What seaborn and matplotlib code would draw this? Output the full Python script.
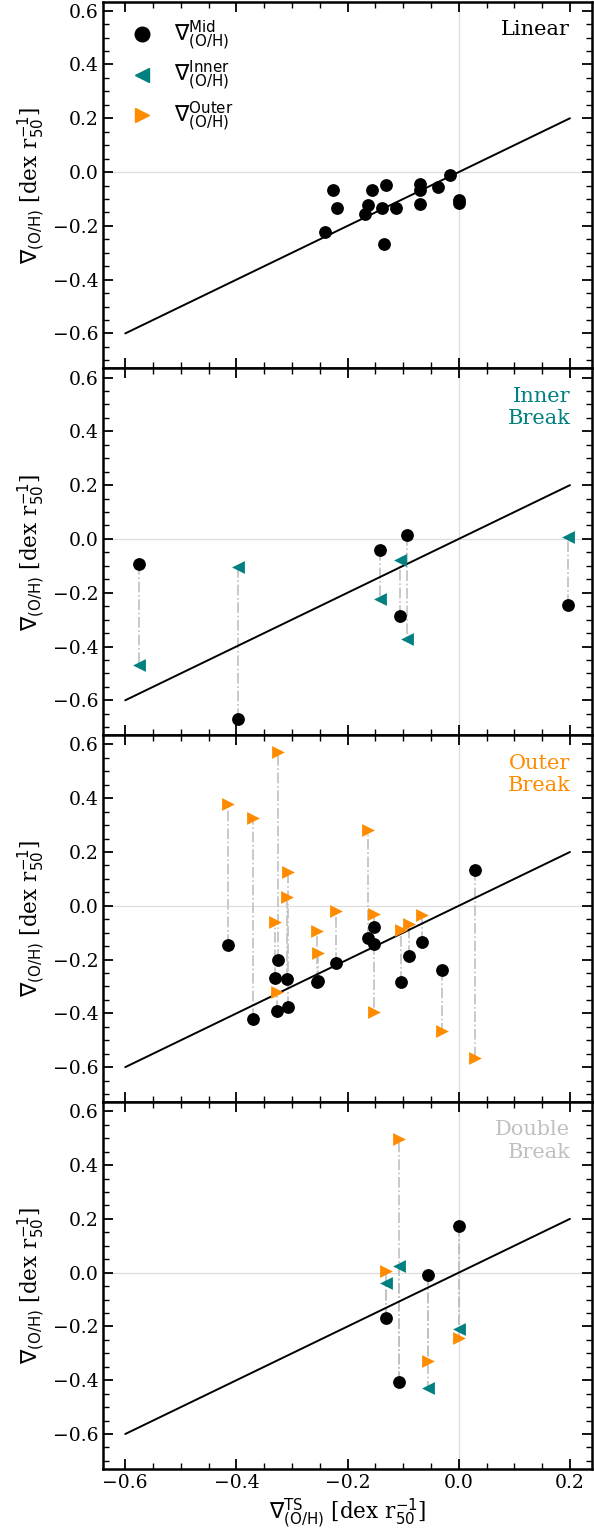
import numpy as np
import pandas as pd
import matplotlib
matplotlib.use("Agg")
import matplotlib.pyplot as plt
from matplotlib.lines import Line2D
from matplotlib.ticker import MultipleLocator
import seaborn as sns

# ---------------- data ----------------
# Panel 1: Linear
lin_x   = [-0.241, -0.226, -0.219, -0.168, -0.163, -0.156, -0.138, -0.135, -0.131,
           -0.113, -0.070, -0.069, -0.070, -0.038, -0.015, 0.000, 0.001]
lin_mid = [-0.223, -0.066, -0.135, -0.157, -0.121, -0.066, -0.134, -0.269, -0.048,
           -0.135, -0.046, -0.068, -0.118, -0.055, -0.012, -0.105, -0.114]

# Panel 2: Inner break
inn_x     = [-0.576, -0.398, -0.141, -0.105, -0.094, 0.196]
inn_mid   = [-0.092, -0.668, -0.041, -0.285, 0.015, -0.246]
inn_inner = [-0.470, -0.106, -0.222, -0.077, -0.373, 0.007]

# Panel 3: Outer break
out_x     = [-0.416, -0.370, -0.325, -0.331, -0.327, -0.308, -0.309, -0.255, -0.254,
             -0.220, -0.164, -0.153, -0.152, -0.104, -0.090, -0.066, -0.030, 0.030]
out_mid   = [-0.146, -0.420, -0.200, -0.268, -0.393, -0.378, -0.271, -0.283, -0.280,
             -0.211, -0.120, -0.078, -0.142, -0.285, -0.186, -0.133, -0.238, 0.133]
out_outer = [0.380, 0.325, 0.572, -0.062, -0.319, 0.124, 0.033, -0.093, -0.174,
             -0.020, 0.283, -0.031, -0.396, -0.089, -0.066, -0.035, -0.465, -0.565]

# Panel 4: Double break
dbl_x     = [-0.131, -0.107, -0.055, 0.001]
dbl_mid   = [-0.169, -0.405, -0.007, 0.172]
dbl_inner = [-0.040, 0.024, -0.429, -0.209]
dbl_outer = [0.006, 0.497, -0.327, -0.243]

one_to_one = [-0.6, 0.2]

panel_titles = ["Linear", "Inner\nBreak", "Outer\nBreak", "Double\nBreak"]

# ---------------- style ----------------
sns.set_style("ticks")
plt.rcParams["font.family"] = ["DejaVu Serif"]
plt.rcParams["mathtext.fontset"] = "dejavusans"
plt.rcParams["axes.edgecolor"] = "black"
plt.rcParams["xtick.color"] = "black"
plt.rcParams["ytick.color"] = "black"
plt.rcParams["text.color"] = "black"
plt.rcParams["axes.labelcolor"] = "black"

C_MID = "black"
C_IN = "#008080"
C_OUT = "#FF8C00"
C_LINK = "#C0C0C0"
title_colors = ["black", C_IN, C_OUT, "#C0C0C0"]

fig, axes = plt.subplots(4, 1, figsize=(5.94, 15.39), dpi=100, sharex=True, sharey=True)
fig.subplots_adjust(left=0.1734, right=0.997, top=0.999, bottom=0.0455, hspace=0)

panels = [
    dict(x=lin_x, mid=lin_mid, inner=None, outer=None),
    dict(x=inn_x, mid=inn_mid, inner=inn_inner, outer=None),
    dict(x=out_x, mid=out_mid, inner=None, outer=out_outer),
    dict(x=dbl_x, mid=dbl_mid, inner=dbl_inner, outer=dbl_outer),
]

S = 85
ylabel = r"$\nabla_{\rm (O/H)}$ [dex r$_{50}^{-1}$]"
xlabel = r"$\nabla^{\rm TS}_{\rm (O/H)}$ [dex r$_{50}^{-1}$]"

for ax, p, title, tc in zip(axes, panels, panel_titles, title_colors):
    ax.axhline(0, color="#dddddd", lw=0.9, zorder=0)
    ax.axvline(0, color="#dddddd", lw=0.9, zorder=0)

    # connecting lines
    for key in ("inner", "outer"):
        if p[key] is not None:
            for xi, m, o in zip(p["x"], p["mid"], p[key]):
                ax.plot([xi, xi], [m, o], color=C_LINK, ls="-.", lw=1.2, zorder=1)

    sns.lineplot(x=one_to_one, y=one_to_one, ax=ax, color="black", lw=1.4, zorder=2)

    df = pd.DataFrame({"x": p["x"], "mid": p["mid"]})
    sns.scatterplot(data=df, x="x", y="mid", ax=ax, color=C_MID, marker="o",
                    s=S, linewidth=0, zorder=4)
    if p["inner"] is not None:
        dfi = pd.DataFrame({"x": p["x"], "y": p["inner"]})
        sns.scatterplot(data=dfi, x="x", y="y", ax=ax, color=C_IN, marker="<",
                        s=S, linewidth=0, zorder=3)
    if p["outer"] is not None:
        dfo = pd.DataFrame({"x": p["x"], "y": p["outer"]})
        sns.scatterplot(data=dfo, x="x", y="y", ax=ax, color=C_OUT, marker=">",
                        s=S, linewidth=0, zorder=3)

    ax.text(0.955, 0.95, title, transform=ax.transAxes, ha="right", va="top",
            fontsize=15, color=tc, linespacing=1.25)

    ax.set_ylabel(ylabel, fontsize=15.5)
    ax.set_xlabel("")
    ax.xaxis.set_major_locator(MultipleLocator(0.2))
    ax.xaxis.set_minor_locator(MultipleLocator(0.05))
    ax.yaxis.set_major_locator(MultipleLocator(0.2))
    ax.yaxis.set_minor_locator(MultipleLocator(0.05))
    ax.tick_params(which="both", direction="in", top=True, right=True, labelsize=13.5)
    ax.tick_params(which="major", length=7, width=1.3)
    ax.tick_params(which="minor", length=4, width=1.0)
    for sp in ax.spines.values():
        sp.set_linewidth(1.8)

axes[-1].set_xlabel(xlabel, fontsize=15.5)

handles = [
    Line2D([], [], ls="", marker="o", color=C_MID, markersize=10.5),
    Line2D([], [], ls="", marker="<", color=C_IN, markersize=10.5),
    Line2D([], [], ls="", marker=">", color=C_OUT, markersize=10.5),
]
labels = [r"$\nabla^{\rm Mid}_{\rm (O/H)}$", r"$\nabla^{\rm Inner}_{\rm (O/H)}$",
          r"$\nabla^{\rm Outer}_{\rm (O/H)}$"]
axes[0].legend(handles, labels, loc="upper left", frameon=False, fontsize=15.5,
               labelspacing=0.3, handletextpad=0.5, borderaxespad=0.4)

fig.savefig("out.png", dpi=100)
